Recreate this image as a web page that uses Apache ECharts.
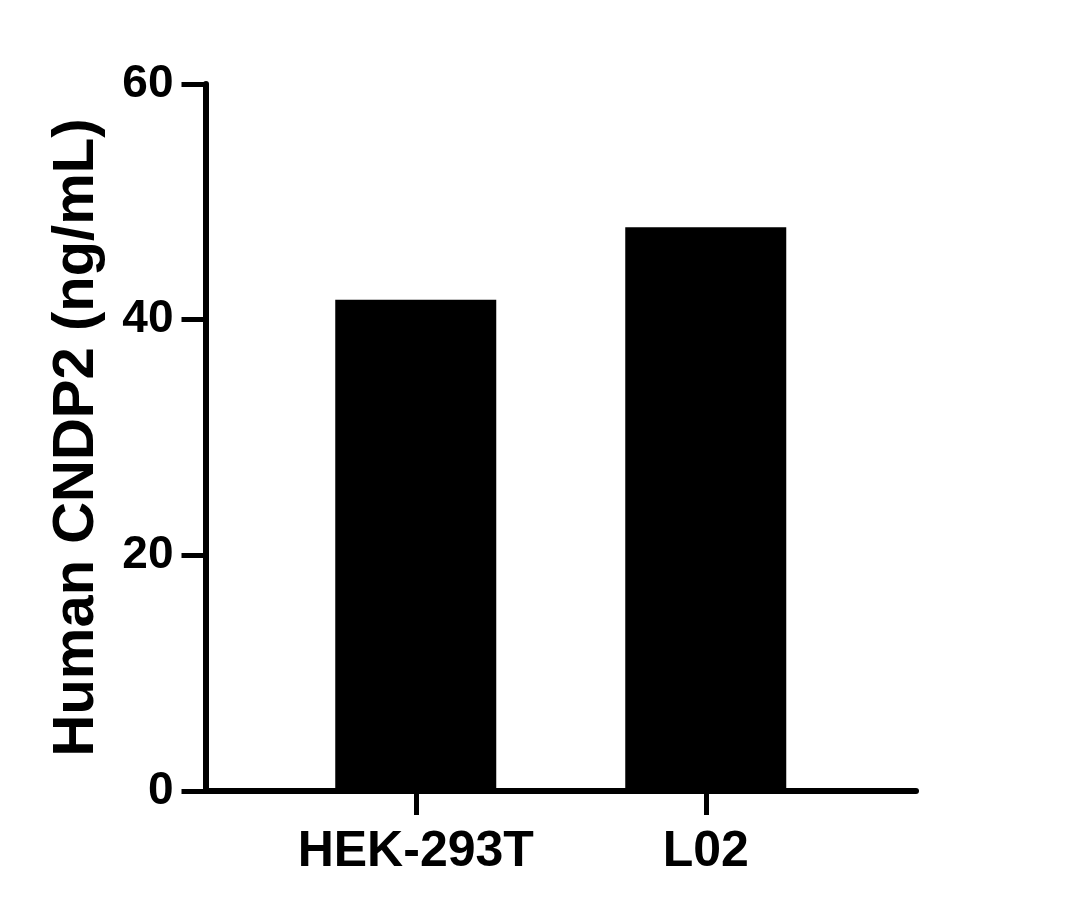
<!DOCTYPE html>
<html>
<head>
<meta charset="utf-8">
<script src="https://cdn.jsdelivr.net/npm/echarts@6/dist/echarts.min.js"></script>
<style>
html,body{margin:0;padding:0;background:#fff;}
#chart{width:1066px;height:918px;}
</style>
</head>
<body>
<div id="chart"></div>
<script>
const categories = ['HEK-293T', 'L02'];
const values = [41.7, 47.85];
const yTicks = [0, 20, 40, 60];
const yTitle = 'Human CNDP2 (ng/mL)';

const font = '"Liberation Sans", Arial, Helvetica, sans-serif';
const chart = echarts.init(document.getElementById('chart'), null, {renderer: 'canvas'});
const idx = categories.map((c, i) => i);
chart.setOption({
  animation: false,
  backgroundColor: '#ffffff',
  grid: {left: 205.5, right: 150, top: 84, bottom: 127, containLabel: false},
  xAxis: {
    type: 'value',
    min: -0.725,
    max: categories.length - 1 + 0.725,
    splitLine: {show: false},
    axisLine: {show: true, onZero: false, lineStyle: {color: '#000', width: 6}},
    axisTick: {show: true, customValues: idx, length: 24, lineStyle: {color: '#000', width: 5}},
    axisLabel: {
      show: true, customValues: idx, margin: 36,
      formatter: v => categories[Math.round(v)] || '',
      color: '#000', fontSize: 50, fontWeight: 'bold', fontFamily: font
    }
  },
  yAxis: {
    type: 'value',
    min: yTicks[0], max: yTicks[yTicks.length - 1], interval: 20,
    splitLine: {show: false},
    axisLine: {show: true, onZero: false, lineStyle: {color: '#000', width: 6}},
    axisTick: {show: true, length: 24, lineStyle: {color: '#000', width: 5}},
    axisLabel: {margin: 32, color: '#000', fontSize: 46, fontWeight: 'bold', fontFamily: font},
    name: yTitle,
    nameLocation: 'middle',
    nameGap: 100,
    nameRotate: 90,
    nameTextStyle: {color: '#000', fontSize: 58, fontWeight: 'bold', fontFamily: font}
  },
  series: [{
    type: 'bar',
    data: values.map((v, i) => [i, v]),
    barWidth: 161,
    itemStyle: {color: '#000'},
    z: 1
  }]
});
</script>
</body>
</html>
